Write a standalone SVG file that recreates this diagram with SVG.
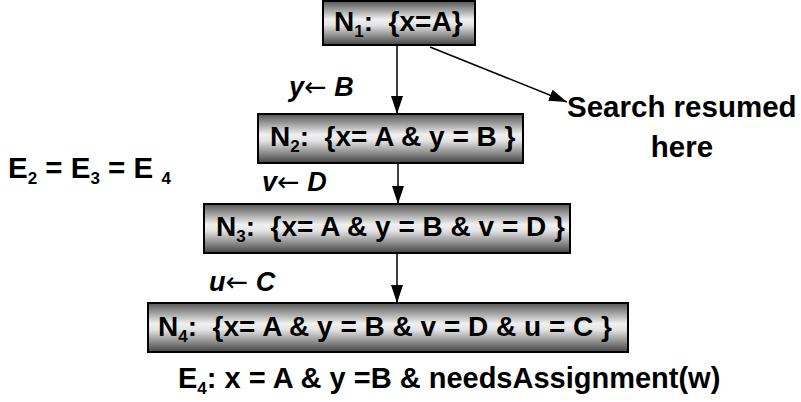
<svg xmlns="http://www.w3.org/2000/svg" width="801" height="402" viewBox="0 0 801 402">
  <defs>
    <linearGradient id="boxShade" x1="0" y1="0" x2="0" y2="1">
      <stop offset="0" stop-color="#555"/>
      <stop offset="0.42" stop-color="#f0f0f0"/>
      <stop offset="0.55" stop-color="#e2e2e2"/>
      <stop offset="1" stop-color="#444"/>
    </linearGradient>
    <marker id="head" viewBox="0 0 18 12" refX="18" refY="6" markerWidth="18" markerHeight="12" markerUnits="userSpaceOnUse" orient="auto">
      <path d="M0,0 L18,6 L0,12 Z" fill="#000"/>
    </marker>
  </defs>
  <style>
    .box { fill: url(#boxShade); stroke: #000; stroke-width: 2; }
    .t { font-family: "Liberation Sans", Arial, sans-serif; font-weight: bold; fill: #000; white-space: pre; }
    .node { font-size: 28px; }
    .big { font-size: 29.5px; }
    .foot { font-size: 29px; }
    .lbl { font-size: 27px; font-style: italic; }
    .arr { font-family: "DejaVu Sans", sans-serif; font-style: normal; font-weight: normal; }
    .sub { font-size: 17px; }
    .edge { stroke: #000; stroke-width: 1.5; fill: none; marker-end: url(#head); }
  </style>

  <g id="connectors">
    <line class="edge" x1="397" y1="45" x2="397" y2="114"/>
    <line class="edge" x1="398" y1="163" x2="398" y2="204"/>
    <line class="edge" x1="397" y1="253" x2="397" y2="303"/>
    <line class="edge" x1="430" y1="47" x2="567" y2="102"/>
  </g>

  <g id="n1">
    <rect class="box" x="323" y="1" width="152" height="44"/>
    <text class="t node" x="334" y="31">N<tspan class="sub" dy="6">1</tspan><tspan dy="-6">:  {x=A}</tspan></text>
  </g>

  <g id="n2">
    <rect class="box" x="258" y="114" width="265" height="49"/>
    <text class="t node" x="270" y="146">N<tspan class="sub" dy="6">2</tspan><tspan dy="-6">:  {x= A &amp; y = B }</tspan></text>
  </g>

  <g id="n3">
    <rect class="box" x="204" y="204" width="366" height="49"/>
    <text class="t node" x="216" y="236">N<tspan class="sub" dy="6">3</tspan><tspan dy="-6">:  {x= A &amp; y = B &amp; v = D }</tspan></text>
  </g>

  <g id="n4">
    <rect class="box" x="148" y="303" width="480" height="49"/>
    <text class="t node" x="158" y="336">N<tspan class="sub" dy="6">4</tspan><tspan dy="-6">:  {x= A &amp; y = B &amp; v = D &amp; u = C }</tspan></text>
  </g>

  <g id="labels">
    <text class="t lbl" x="289" y="96">y<tspan class="arr">←</tspan> B</text>
    <text class="t lbl" x="262" y="191">v<tspan class="arr">←</tspan> D</text>
    <text class="t lbl" x="209" y="291">u<tspan class="arr">←</tspan> C</text>
    <text class="t big" x="8" y="178">E<tspan class="sub" dy="6">2</tspan><tspan dy="-6"> = E</tspan><tspan class="sub" dy="6">3</tspan><tspan dy="-6"> = E </tspan><tspan class="sub" dy="6">4</tspan></text>
    <text class="t big" x="567" y="117">Search resumed</text>
    <text class="t big" x="682" y="157" text-anchor="middle">here</text>
    <text class="t foot" x="178" y="388">E<tspan class="sub" dy="6">4</tspan><tspan dy="-6">: x = A &amp; y =B &amp; needsAssignment(w)</tspan></text>
  </g>
</svg>
